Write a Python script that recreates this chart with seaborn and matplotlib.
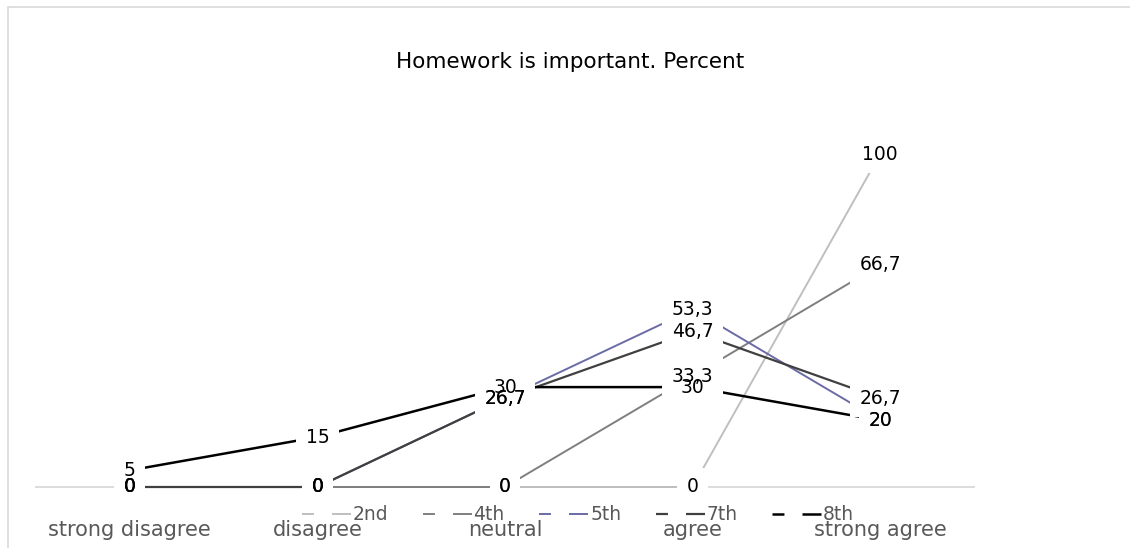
import matplotlib
matplotlib.use("Agg")
import matplotlib.pyplot as plt
import seaborn as sns
import pandas as pd
from matplotlib.lines import Line2D
from matplotlib.patches import Rectangle

categories = ["strong disagree", "disagree", "neutral", "agree", "strong agree"]
series_names = ["2nd", "4th", "5th", "7th", "8th"]
v_2nd = [0, 0, 0, 0, 100]
v_4th = [0, 0, 0, 33.3, 66.7]
v_5th = [0, 0, 26.7, 53.3, 20]
v_7th = [0, 0, 26.7, 46.7, 26.7]
v_8th = [5, 15, 30, 30, 20]
title = "Homework is important. Percent"

colors = ["#BFBFBF", "#7F7F7F", "#6B6BA6", "#404040", "#000000"]
widths = [1.4, 1.4, 1.4, 1.6, 1.8]

sns.set_theme(style="white")
plt.rcParams["font.family"] = ["DejaVu Sans"]
plt.rcParams["lines.scale_dashes"] = False

FS = 13.5

W, H = 1130, 548
fig = plt.figure(figsize=(W / 100, H / 100), dpi=100)

# axes placement in pixels
x_left, x_right = 36, 974
y_zero, y_top = 487, 87.4
ax = fig.add_axes([x_left / W, (H - y_zero) / H, (x_right - x_left) / W, (y_zero - y_top) / H])

rows = []
for name, vals in zip(series_names, [v_2nd, v_4th, v_5th, v_7th, v_8th]):
    for i, (c, v) in enumerate(zip(categories, vals)):
        rows.append({"category": c, "pos": i, "series": name, "value": v})
df = pd.DataFrame(rows)

for name, col, lw in zip(series_names, colors, widths):
    sub = df[df.series == name]
    sns.lineplot(data=sub, x="pos", y="value", color=col, linewidth=lw, ax=ax,
                 legend=False, zorder=3, clip_on=False)

ax.set_xlim(-0.5, len(categories) - 0.5)
ax.set_ylim(0, 120)
ax.set_xticks(range(len(categories)))
ax.set_xticklabels(categories, fontsize=15, color="#595959")
ax.tick_params(axis="x", length=0, pad=24)
ax.set_yticks([])
ax.set_xlabel("")
ax.set_ylabel("")
for s in ["top", "left", "right"]:
    ax.spines[s].set_visible(False)
ax.spines["bottom"].set_color("#D9D9D9")
ax.spines["bottom"].set_linewidth(1.3)
ax.spines["bottom"].set_zorder(2)

# data labels: white boxes first, then text
for name in series_names:
    sub = df[df.series == name]
    for _, r in sub.iterrows():
        lab = f"{r.value:g}".replace(".", ",")
        ax.text(r.pos, r.value, lab, ha="center", va="center", fontsize=FS,
                color="none", zorder=4, clip_on=False,
                bbox=dict(boxstyle="square,pad=0.5", fc="white", ec="none"))
for name in series_names:
    sub = df[df.series == name]
    for _, r in sub.iterrows():
        lab = f"{r.value:g}".replace(".", ",")
        ax.text(r.pos, r.value, lab, ha="center", va="center", fontsize=FS,
                color="black", zorder=5, clip_on=False)

fig.text(570 / W, 1 - 62 / H, title, ha="center", va="center", fontsize=15.5, color="black")

handles = [Line2D([], [], color=c, linewidth=lw, linestyle=(0, (8.6, 13.0, 40.0, 1.0)))
           for c, lw in zip(colors, widths)]
fig.legend(handles, series_names, loc="center", bbox_to_anchor=(578 / W, 1 - 515 / H),
           ncol=5, frameon=False, fontsize=FS, handlelength=2.6, handletextpad=0.1,
           columnspacing=1.85, labelcolor="#595959")

# chart border
fig.add_artist(Rectangle((8 / W, -0.1), 1.2, 1 - 7 / H + 0.1, transform=fig.transFigure,
                         fill=False, ec="#D9D9D9", lw=1.2))

fig.savefig("out.png", dpi=100, facecolor="white")
